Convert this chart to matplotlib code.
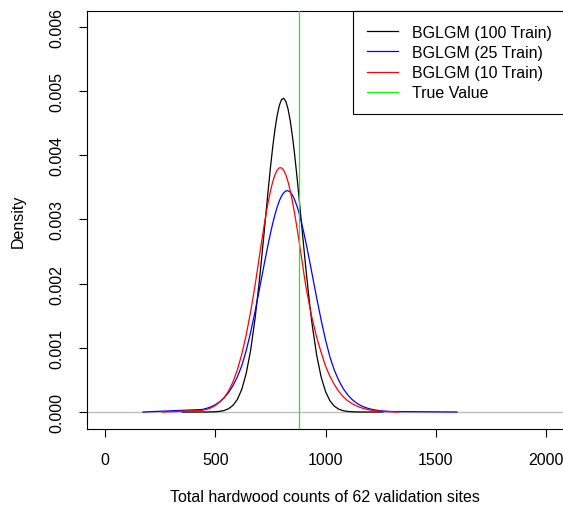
import numpy as np
import matplotlib
matplotlib.use("Agg")
import matplotlib.pyplot as plt

plt.rcParams['font.family'] = ['Liberation Sans', 'DejaVu Sans']

# ---- data ----
grid_x = [440, 460, 480, 500, 520, 540, 560, 580, 600, 620, 640, 660, 680, 700,
          710, 720, 730, 740, 750, 760, 770, 780, 790, 800, 810, 820, 830, 840,
          850, 860, 870, 880, 890, 900, 910, 920, 930, 940,
          960, 980, 1000, 1020, 1040, 1060, 1080, 1100, 1120, 1140, 1160, 1180,
          1200, 1220, 1240, 1260, 1280, 1300]

dens_100 = [0.0000000, 0.0000000, 0.0000016, 0.0000042, 0.0000103, 0.0000235,
            0.0000505, 0.0001025, 0.000196, 0.000353, 0.000600, 0.000959,
            0.001447, 0.002055,
            0.002395, 0.002749, 0.003111, 0.003467, 0.003808, 0.004120,
            0.004392, 0.004613, 0.004774, 0.004867, 0.004889, 0.004838,
            0.004717, 0.004532, 0.004289, 0.003999, 0.003674, 0.003326,
            0.002966, 0.002606, 0.002256, 0.001924, 0.001617, 0.001338,
            0.000877, 0.000542, 0.000316, 0.000173,
            0.0000894, 0.0000435, 0.0000200, 0.0000086, 0.0000035, 0.0000013,
            0.0, 0.0, 0.0, 0.0, 0.0, 0.0, 0.0, 0.0]

dens_25 = [0.0000392, 0.0000564, 0.0000804, 0.0001137, 0.0001594, 0.000221,
           0.000303, 0.000410, 0.000548, 0.000721, 0.000954, 0.001239,
           0.001563, 0.001913,
           0.002093, 0.002272, 0.002449, 0.002621, 0.002784, 0.002934,
           0.003071, 0.003189, 0.003288, 0.003364, 0.003417, 0.003445,
           0.003448, 0.003425, 0.003377, 0.003305, 0.003211, 0.003096,
           0.002963, 0.002815, 0.002654, 0.002484, 0.002308, 0.002128,
           0.001771, 0.001429, 0.001120, 0.000852,
           0.000648, 0.000490, 0.000364, 0.000268, 0.000195, 0.000140,
           0.0000994, 0.0000700, 0.0000490, 0.0000339, 0.0000234, 0.0000160,
           0.0000109, 0.0000074]

dens_10 = [0.0000251, 0.0000401, 0.0000631, 0.0001011, 0.0001534, 0.0002226,
           0.000326, 0.000468, 0.000657, 0.000900, 0.001200, 0.001560,
           0.001967, 0.002426,
           0.002655, 0.002876, 0.003085, 0.003275, 0.003443, 0.003584,
           0.003693, 0.003767, 0.003805, 0.003805, 0.003767, 0.003693,
           0.003584, 0.003443, 0.003275, 0.003085, 0.002876, 0.002655,
           0.002426, 0.002195, 0.001967, 0.001784, 0.001605, 0.001441,
           0.001160, 0.000926, 0.000714, 0.000552,
           0.000426, 0.000319, 0.000238, 0.000176, 0.000130, 0.0000952,
           0.0000675, 0.0000474, 0.0000320, 0.0000214, 0.0000141, 0.0000093,
           0.0000060, 0.0000039]

# outer ends of each density estimate (support), density ~0 there
range_100 = [350, 1260]
range_25 = [172, 1596]
range_10 = [260, 1330]

true_value = 879

series_labels = ["BGLGM (100 Train)", "BGLGM (25 Train)", "BGLGM (10 Train)", "True Value"]
series_colors = ["black", "#0000FF", "#FF0000", "#00FF00"]

x_ticks = [0, 500, 1000, 1500, 2000]
y_ticks = [0.000, 0.001, 0.002, 0.003, 0.004, 0.005, 0.006]
x_label = "Total hardwood counts of 62 validation sites"
y_label = "Density"


def full_curve(rng, xs, ys):
    keep = [(a, b) for a, b in zip(xs, ys) if rng[0] <= a <= rng[1]]
    return ([rng[0]] + [k[0] for k in keep] + [rng[1]],
            [0.0] + [k[1] for k in keep] + [0.0])


W, H = 563, 510
fig = plt.figure(figsize=(W / 100, H / 100), dpi=100)
left_px, right_px, top_px, bot_px = 87, 566, 12, 430
ax = fig.add_axes([left_px / W, 1 - bot_px / H, (right_px - left_px) / W,
                   (bot_px - top_px) / H])

px_per_unit = 0.2206
x0_px = 105
ax.set_xlim((left_px - x0_px) / px_per_unit, (right_px - x0_px) / px_per_unit)
ypx_per = 64.17 / 0.001
y0_px = 413
ax.set_ylim(-(bot_px - y0_px) / ypx_per, (y0_px - top_px) / ypx_per)

# zero line (gray)
ax.axhline(0, color="#BEBEBE", lw=1.0, zorder=1)

lw = 0.9
cx, cy = full_curve(range_100, grid_x, dens_100)
ax.plot(cx, cy, color=series_colors[0], lw=lw, label=series_labels[0], zorder=2)
cx, cy = full_curve(range_25, grid_x, dens_25)
ax.plot(cx, cy, color=series_colors[1], lw=lw, label=series_labels[1], zorder=3)
cx, cy = full_curve(range_10, grid_x, dens_10)
ax.plot(cx, cy, color=series_colors[2], lw=lw, label=series_labels[2], zorder=4)
ax.axvline(true_value, color=series_colors[3], lw=lw, label=series_labels[3], zorder=5)

ax.set_xticks(x_ticks)
ax.set_xticklabels([str(t) for t in x_ticks])
ax.set_yticks(y_ticks)
ax.set_yticklabels(["%.3f" % t for t in y_ticks], rotation=90, va="center")
ax.tick_params(axis="both", direction="out", length=5.5, width=0.8,
               labelsize=11.5, colors="black")
ax.tick_params(axis="x", pad=11)
ax.tick_params(axis="y", pad=11)
for s in ax.spines.values():
    s.set_linewidth(0.8)
    s.set_color("black")

fig.text((left_px + 563) / 2 / W, 1 - 498 / H, x_label, ha="center", va="center",
         fontsize=11.5)
fig.text(18 / W, 1 - 221 / H, y_label, ha="center", va="center", rotation=90,
         fontsize=11.5)

leg = ax.legend(loc="upper right", fontsize=11.5, frameon=True, fancybox=False,
                edgecolor="black", borderaxespad=0, borderpad=0.875,
                handlelength=1.95, handletextpad=0.9, labelspacing=0.32,
                framealpha=1)
leg.get_frame().set_linewidth(0.8)

fig.savefig("out.png", dpi=100)
